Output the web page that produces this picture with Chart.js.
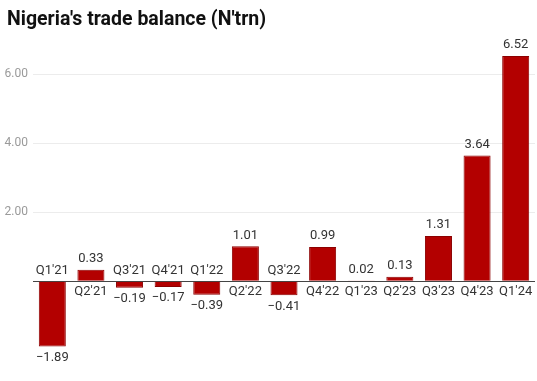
<!DOCTYPE html>
<html>
<head>
<meta charset="utf-8">
<script src="https://cdn.jsdelivr.net/npm/chart.js@4"></script>
<style>
  html, body { margin: 0; padding: 0; background: #fff; }
  #wrap { position: relative; width: 537px; height: 381px; }
  #title {
    position: absolute; left: 7px; top: 7px; margin: 0;
    font: bold 19.5px/24px Roboto, "Noto Sans", Arial, sans-serif;
    color: #111; white-space: nowrap;
  }
</style>
</head>
<body>
<div id="wrap">
  <canvas id="chart"></canvas>
  <h1 id="title">Nigeria's trade balance (N'trn)</h1>
</div>
<script>
/* ---- Data ---- */
const quarters = ["Q1'21", "Q2'21", "Q3'21", "Q4'21", "Q1'22", "Q2'22", "Q3'22",
  "Q4'22", "Q1'23", "Q2'23", "Q3'23", "Q4'23", "Q1'24"];
const balance = [-1.89, 0.33, -0.19, -0.17, -0.39, 1.01, -0.41, 0.99, 0.02, 0.13, 1.31, 3.64, 6.52];
const yTicks = [0, 2, 4, 6];

const FONT = 'Roboto, "Noto Sans", Arial, sans-serif';

// value above/below the bar, quarter name on the other side of the zero line
const barLabels = {
  id: "barLabels",
  afterDatasetsDraw(chart) {
    const { ctx, scales: { y } } = chart;
    const zero = y.getPixelForValue(0);
    const meta = chart.getDatasetMeta(0);
    ctx.save();
    ctx.font = "13px " + FONT;
    ctx.fillStyle = "#333";
    ctx.textAlign = "center";
    ctx.textBaseline = "middle";
    meta.data.forEach((bar, i) => {
      const v = balance[i];
      const top = Math.min(bar.y, bar.base);
      const bottom = Math.max(bar.y, bar.base);
      if (v >= 0) {
        ctx.fillText(v.toFixed(2), bar.x, top - 11);
        ctx.fillText(quarters[i], bar.x, zero + 11);
      } else {
        ctx.fillText("\u2212" + Math.abs(v).toFixed(2), bar.x, bottom + 11);
        ctx.fillText(quarters[i], bar.x, zero - 10);
      }
    });
    ctx.restore();
  },
};

new Chart(document.getElementById("chart"), {
  type: "bar",
  data: {
    labels: quarters,
    datasets: [{
      data: balance,
      backgroundColor: "#b30000",
      borderColor: "#8c0000",
      borderWidth: 1,
      barPercentage: 0.7,
      categoryPercentage: 1,
    }],
  },
  options: {
    responsive: true,
    maintainAspectRatio: false,
    animation: false,
    layout: { padding: { top: 39.5, right: 2, bottom: 13.5, left: 0 } },
    plugins: {
      legend: { display: false },
      tooltip: { enabled: false },
      title: { display: false },
    },
    scales: {
      x: { display: false },
      y: {
        min: -2.5,
        max: 7,
        afterBuildTicks: (s) => { s.ticks = yTicks.map((v) => ({ value: v })); },
        afterFit: (s) => { s.width = 33; },
        border: { display: false },
        grid: {
          drawTicks: false,
          color: (c) => (c.tick && c.tick.value === 0 ? "#444" : "#ececec"),
          lineWidth: 1,
        },
        ticks: {
          padding: 5,
          color: "#9a9a9a",
          font: { family: FONT, size: 12 },
          callback: (v) => (v === 0 ? "" : v.toFixed(2)),
        },
      },
    },
  },
  plugins: [barLabels],
});
</script>
</body>
</html>
